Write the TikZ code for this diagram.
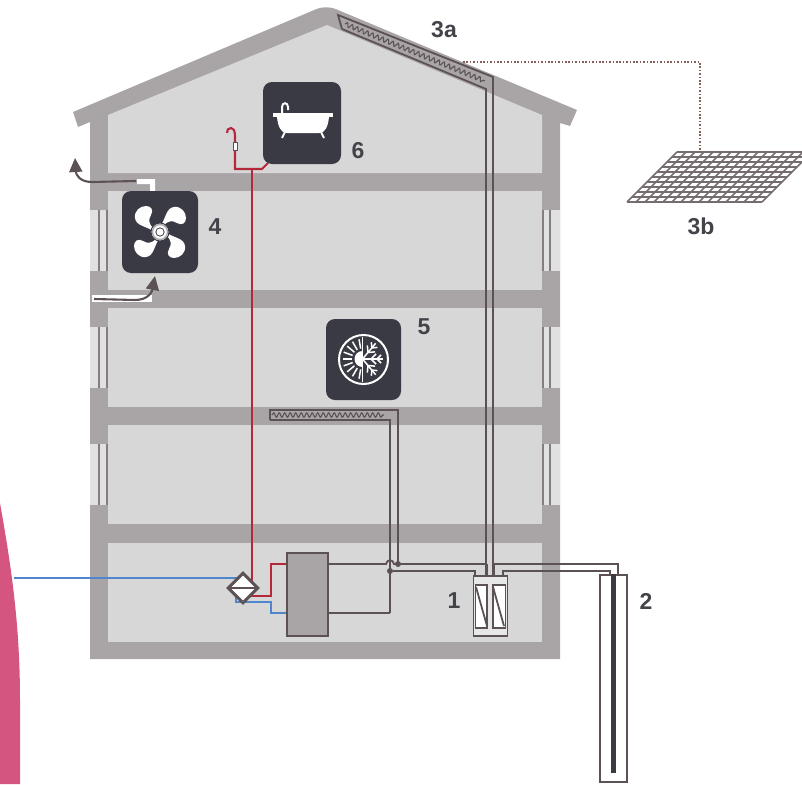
\documentclass[tikz,border=0pt]{standalone}
\usepackage{fontspec}
\setmainfont{Liberation Sans}
\usetikzlibrary{arrows.meta,shapes.geometric,decorations.pathmorphing}
\definecolor{wallgray}{HTML}{A9A5A6}
\definecolor{roomgray}{HTML}{D7D7D7}
\definecolor{pipegray}{HTML}{5C5254}
\definecolor{icondark}{HTML}{3A3A45}
\definecolor{labelgray}{HTML}{45424A}
\definecolor{redpipe}{HTML}{B5283C}
\definecolor{bluepipe}{HTML}{4F86CC}
\definecolor{pinkband}{HTML}{D4557F}
\definecolor{dotbrown}{HTML}{85605A}
\tikzset{
  wall/.style={fill=wallgray},
  room/.style={fill=roomgray},
  numlabel/.style={font=\bfseries\fontsize{23}{23}\selectfont,text=labelgray,inner sep=0pt},
  icon/.style={rectangle,rounded corners=9pt,fill=icondark,minimum width=76pt,minimum height=82pt,inner sep=0pt},
  pipe/.style={draw=pipegray,line width=1.8pt},
  hot/.style={draw=redpipe,line width=2.1pt},
  cold/.style={draw=bluepipe,line width=1.7pt},
  airflow/.style={draw=pipegray,line width=2.1pt,-{Triangle[length=14pt,width=13pt]}},
  box/.style={rectangle,draw=pipegray,line width=1.8pt,inner sep=0pt},
  junction/.style={circle,fill=pipegray,inner sep=0pt,minimum size=6pt},
  coilline/.style={draw=pipegray,line width=1.1pt,decorate,decoration={snake,segment length=5.5pt,amplitude=2.2pt}},
  dotline/.style={draw=dotbrown,line width=1.6pt,dash pattern=on 1.6pt off 1.8pt},
  gridline/.style={draw=pipegray!85,line width=1.6pt},
  flake/.style={white,line width=1.5pt},
}

\begin{document}
\begin{tikzpicture}[x=1pt,y=-1pt]
        \useasboundingbox (0,0) rectangle (802,784);

        % pink band at the left edge
        \fill[pinkband] (0,503) .. controls (10,560) and (20,620) .. (20,700) -- (20,784) -- (0,784) -- cycle;

        % house shell
        \fill[wall] (73,112) [rounded corners=10pt] -- (326,5) [sharp corners] -- (577,110) -- (570,126) -- (560,123)
            -- (560,659) -- (90,659) -- (90,122) -- (78,127) -- cycle;
        % attic and rooms
        \fill[room] (108,115) -- (327,25) -- (542,115) -- (542,173) -- (108,173) -- cycle;
        \foreach \y/\h in {191/99,308/99,425/99,543/99}{
          \fill[room] (108,\y) rectangle (542,\y+\h);
        }
        % windows
        \foreach \y in {210,327,444}{
          \fill[roomgray!75!white] (90,\y) rectangle (108,\y+61);
          \fill[roomgray!75!white] (542,\y) rectangle (560,\y+61);
          \draw[draw=pipegray!75,line width=1.4pt] (99,\y) -- (99,\y+61);
          \draw[draw=pipegray!75,line width=1.4pt] (107,\y) -- (107,\y+61);
          \draw[draw=pipegray!75,line width=1.4pt] (543,\y) -- (543,\y+61);
          \draw[draw=pipegray!75,line width=1.4pt] (550,\y) -- (550,\y+61);
        }

        % air ducts
        \fill[white] (137,179) -- (155,179) -- (155,191) -- (150,191) -- (150,184) -- (137,184) -- cycle;
        \fill[white] (92,295) rectangle (152,302);
        \coordinate (ductout) at (136,181);
        \coordinate (ductoutend) at (75,158);
        \coordinate (ductin) at (94,299);
        \coordinate (ductinend) at (155,276);
        \draw[airflow] (ductout) -- (92,182) .. controls (80,182) and (76,175) .. (ductoutend);
        \draw[airflow] (ductin) -- (135,300) .. controls (148,300) and (152,292) .. (ductinend);

        % components
        \node[box,fill=wallgray,minimum width=41pt,minimum height=83pt] (tank) at (307.5,594.5) {};
        \node[box,fill=roomgray!60!white,minimum width=34pt,minimum height=60pt] (source) at (490.5,606) {};
        \node[box,fill=white,minimum width=27pt,minimum height=207pt] (well) at (613.5,678.5) {};
        \node[diamond,draw=pipegray,line width=2pt,fill=white,minimum width=29pt,minimum height=29pt,inner sep=0pt] (hx) at (243,588) {};

        % ceiling panel with coil
        \coordinate (ceilA) at (270,410);
        \coordinate (ceilB) at (270,420);
        \coordinate (ceilC) at (398,410);
        \coordinate (ceilD) at (390,420);
        \draw[coilline] (272,415) -- (384,415);
        \draw[pipe] (ceilB) -- (ceilA) -- (ceilC) -- (398,564);
        \draw[pipe] (ceilB) -- (ceilD) -- (390,613);

        % roof panel with coil
        \coordinate (roofA) at (338,15);
        \coordinate (roofB) at (342,29);
        \coordinate (roofC) at (493,77);
        \coordinate (roofD) at (486,89);
        \draw[coilline] (345,24) -- (485,81);
        \draw[pipe] (roofB) -- (roofA) -- (roofC) -- (source.north -| 493,0);
        \draw[pipe] (roofB) -- (roofD) -- (source.north -| 486,0);
        \draw[draw=pipegray,line width=3pt] (486,564) -- (source.north -| 486,0);
        \draw[draw=pipegray,line width=3pt] (493,564) -- (source.north -| 493,0);

        % tank to source and ceiling
        \coordinate (hopA) at (386,564);
        \coordinate (hopB) at (394,564);
        \node[junction] (jtop) at (398,564) {};
        \node[junction] (jlow) at (390,571) {};
        \draw[pipe] (tank.east |- hopA) -- (hopA) .. controls (387,559) and (393,559) .. (hopB) -- (486,564);
        \draw[pipe] (tank.east |- 0,613) -- (390,613);
        \draw[pipe] (jlow) -- (475,571) -- (source.north -| 475,0);

        % source to well
        \draw[pipe] (493,564) -- (618,564) -- (well.north -| 618,0);
        \draw[pipe] (source.north -| 503,0) -- (503,571) -- (610,571) -- (well.north -| 610,0);
        \draw[draw=icondark,line width=5.5pt] (well.north) -- (613.5,773);

        % inside of the source box
        \draw[draw=pipegray,fill=white,line width=1.4pt] (475.5,585) rectangle (487,628);
        \draw[draw=pipegray,fill=white,line width=1.4pt] (493,585) rectangle (505.5,628);
        \foreach \x in {476,493}{
          \draw[pipe] (\x,587) -- (\x+11,626);
        }

        % hot and cold water
        \coordinate (inlet) at (14,578);
        \coordinate (shower) at (235,169);
        \coordinate (bathtap) at (268,163);
        \draw[cold] (inlet) -- (238,578);
        \draw[cold] (236,596) -- (236,602) -- (271,602) -- (271,613) -- (tank.west |- 0,613);
        \draw[hot] (250,596) -- (271,596) -- (271,564) -- (tank.west |- 0,564);
        \draw[hot] (252,169) -- (252,582);
        \draw[hot] (bathtap) -- (262,169) -- (shower) -- (235,136) .. controls (235,130) and (233,128) .. (231,128)
            .. controls (228,128) and (227,130) .. (227,133);
        \draw[draw=pipegray,fill=white,line width=0.8pt] (233,142) rectangle (237,150);
        \draw[draw=pipegray,line width=1.5pt] (hx.west) -- (hx.east);
        \draw[draw=pipegray,line width=2pt] (hx.north) -- (hx.west) -- (hx.south) -- (hx.east) -- cycle;

        % solar grid
        \coordinate (gridtop) at (700,152);
        \begin{scope}
          \clip (600,140) rectangle (802,210);
          \foreach \i in {0,...,10}{
            \draw[gridline] (677-5*\i,152+5*\i) -- (812-5*\i,152+5*\i);
          }
          \foreach \i in {0,...,15}{
            \draw[gridline] (677+9*\i,152) -- (627+9*\i,202);
          }
        \end{scope}
        \coordinate (roofdot) at (463,62);
        \draw[dotline] (roofdot) -- (700,62) -- (gridtop);

        % fan icon
        \node[icon] (fan) at (160,232) {};
        \foreach \a in {0,90,180,270}{
          \fill[white,rotate around={\a:(160,232)}] (153,228) .. controls (149,224) and (148,220) .. (151,215)
            .. controls (154,210) and (151,206) .. (146,206) .. controls (140,206) and (134,211) .. (135,218)
            .. controls (136,226) and (146,226) .. (153,231) -- cycle;
        }
        \draw[draw=icondark,fill=white,line width=1pt] (160,232) circle (9pt);
        \draw[draw=wallgray,line width=1.3pt] (160,232) circle (7.5pt);
        \fill[icondark] (160,232) circle (4.6pt);
        \fill[white] (160,232) circle (3.6pt);

        % bath icon
        \node[icon,minimum width=78pt] (bath) at (302,123) {};
        \fill[white] (273,113) rectangle (333,117);
        \fill[white] (277,117) .. controls (278,127) and (281,133) .. (287,133) -- (319,133)
            .. controls (325,133) and (328,127) .. (329,117) -- cycle;
        \draw[white,line width=2pt] (285,132) -- (282,138);
        \draw[white,line width=2pt] (321,132) -- (324,138);
        \draw[white,line width=2pt] (282,113) -- (282,107) .. controls (282,102) and (288,102) .. (288,107) -- (288,110);

        % heating and cooling icon
        \node[icon,minimum width=75pt,minimum height=81pt] (climate) at (363.5,359.5) {};
        \draw[white,line width=2pt] (363.5,359.5) circle (24.5pt);
        \draw[flake] (362.5,337) -- (362.5,382);
        \fill[white] (362.5,351) arc (90:270:8pt) -- cycle;
        \foreach \a in {100,120,...,260}{
          \draw[flake] (362.5,359) ++(\a:10.5pt) -- ++(\a:9.5pt);
        }
        \foreach \a in {-50,0,50}{
          \begin{scope}[rotate around={\a:(362.5,359)}]
            \draw[flake] (362.5,359) -- (383,359);
            \draw[flake] (371,359) -- ++(5,-5) (371,359) -- ++(5,5);
            \draw[flake] (377,359) -- ++(4,-4) (377,359) -- ++(4,4);
          \end{scope}
        }

        % labels
        \node[numlabel] (lab1) at (454,601) {1};
        \node[numlabel] (lab2) at (646,601) {2};
        \node[numlabel] (lab3a) at (444,30) {3a};
        \node[numlabel] (lab3b) at (701,226) {3b};
        \node[numlabel] (lab4) at (215,227) {4};
        \node[numlabel] (lab5) at (424,327) {5};
        \node[numlabel] (lab6) at (358,151) {6};
\end{tikzpicture}
\end{document}
